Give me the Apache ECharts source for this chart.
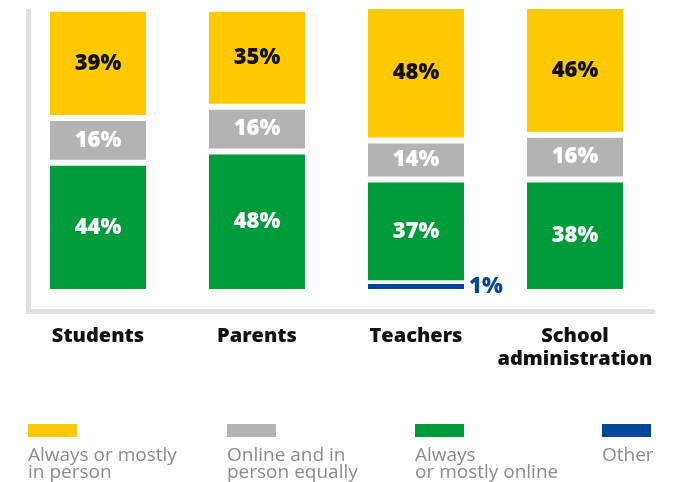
<!DOCTYPE html>
<html>
<head>
<meta charset="utf-8">
<script src="https://cdn.jsdelivr.net/npm/echarts@6/dist/echarts.min.js"></script>
<style>
  html, body { margin: 0; padding: 0; background: #ffffff; }
  #chart { width: 683px; height: 482px; }
</style>
</head>
<body>
<div id="chart"></div>
<script>
// Groups surveyed
const categories = ['Students', 'Parents', 'Teachers', 'School\nadministration'];

// Preferred format, percent of each group
const inPerson = [39, 35, 48, 46];
const equally  = [16, 16, 14, 16];
const online   = [44, 48, 37, 38];
const other    = [0, 0, 1, 0];

const seriesNames = [
  'Always or mostly\nin person',
  'Online and in\nperson equally',
  'Always\nor mostly online',
  'Other'
];

// Stacking order, bottom to top
const stackOrder = [
  { name: seriesNames[3], values: other,    color: '#00479b', label: '#00479b', outside: true },
  { name: seriesNames[2], values: online,   color: '#009b3a', label: '#ffffff' },
  { name: seriesNames[1], values: equally,  color: '#b3b3b3', label: '#ffffff' },
  { name: seriesNames[0], values: inPerson, color: '#ffc900', label: '#111111' }
];

const GAP = 6;        // white gap between stacked blocks
const MIN_H = 5;      // thinnest visible block
const BOLD_FONT = '"Open Sans", Lato, sans-serif';
const TEXT_FONT = '"Open Sans", "Noto Sans", sans-serif';

function makeRenderer(s) {
  const seg = stackOrder[s];
  return function (params, api) {
    const i = api.value(0);
    const v = api.value(1);
    if (!v) return null;
    let base = 0;
    for (let k = 0; k < s; k++) base += stackOrder[k].values[i];
    const cx = api.coord([i, 0])[0];
    const w = api.size([1, 0])[0] * 0.604;
    const yBase = api.coord([i, base])[1];
    const yTop = api.coord([i, base + v])[1];
    const bottom = base > 0 ? yBase - GAP : yBase;
    const h = Math.max(bottom - yTop, MIN_H);
    return {
      type: 'rect',
      shape: { x: cx - w / 2, y: bottom - h, width: w, height: h },
      style: { fill: seg.color },
      textContent: {
        style: {
          text: v + '%',
          fill: seg.label,
          fontSize: 22,
          fontWeight: 800,
          fontFamily: BOLD_FONT
        }
      },
      textConfig: seg.outside
        ? { position: 'right', distance: 5 }
        : { position: 'inside' }
    };
  };
}

const series = stackOrder.map(function (seg, s) {
  return {
    type: 'custom',
    name: seg.name,
    xAxisIndex: 1,
    yAxisIndex: 1,
    renderItem: makeRenderer(s),
    encode: { x: 0, y: 1 },
    data: seg.values.map(function (v, i) { return [i, v]; }),
    silent: true
  };
});

// Legend: swatch above a two-line caption
const legendX = [28, 227, 415, 602];
const legendColors = ['#ffc900', '#b3b3b3', '#009b3a', '#00479b'];
const graphics = [];
seriesNames.forEach(function (name, j) {
  graphics.push({
    type: 'rect',
    left: legendX[j], top: 424,
    shape: { width: 49, height: 13 },
    style: { fill: legendColors[j] }
  });
  graphics.push({
    type: 'text',
    left: legendX[j], top: 446,
    style: {
      text: name,
      fill: '#8c8c8c',
      fontSize: 19,
      lineHeight: 17,
      fontFamily: TEXT_FONT
    }
  });
});

const axisGrey = '#e0e0e0';

const option = {
  animation: false,
  grid: [
    { left: 28.5, right: 30, top: 11.5, bottom: 170.5 },
    { left: 18.5, right: 28.5, top: 9, bottom: 193 }
  ],
  xAxis: [
    {
      gridIndex: 0, type: 'value', min: 0, max: 1,
      axisLine: { show: true, onZero: false, lineStyle: { color: axisGrey, width: 5 } },
      axisTick: { show: false }, axisLabel: { show: false }, splitLine: { show: false }
    },
    {
      gridIndex: 1, type: 'category', data: categories,
      axisLine: { show: false }, axisTick: { show: false }, splitLine: { show: false },
      axisLabel: {
        margin: 36, color: '#111111', fontSize: 20, fontWeight: 800,
        lineHeight: 23, fontFamily: BOLD_FONT, interval: 0
      }
    }
  ],
  yAxis: [
    {
      gridIndex: 0, type: 'value', min: 0, max: 1,
      axisLine: { show: true, onZero: false, lineStyle: { color: axisGrey, width: 5, cap: 'square' } },
      axisTick: { show: false }, axisLabel: { show: false }, splitLine: { show: false }
    },
    {
      gridIndex: 1, type: 'value', min: 0, max: 100, show: false,
      splitLine: { show: false }
    }
  ],
  graphic: graphics,
  series: series
};

const chart = echarts.init(document.getElementById('chart'), null, { renderer: 'canvas' });
chart.setOption(option);
</script>
</body>
</html>
